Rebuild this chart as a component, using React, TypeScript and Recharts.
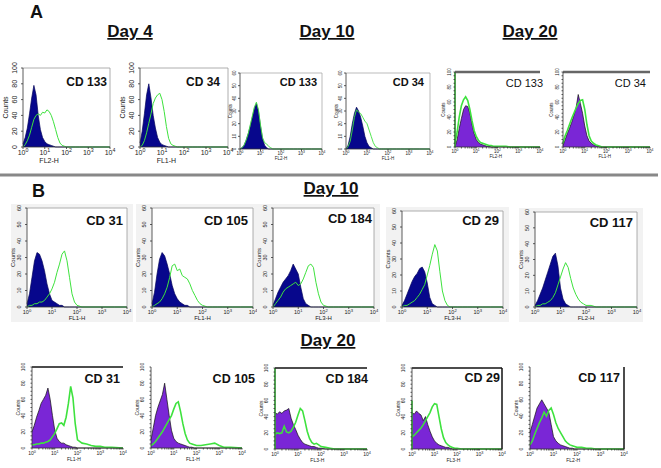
import React from "react";
import { ComposedChart, Area, Line, XAxis, YAxis, ReferenceLine } from "recharts";

// log10 positions of the histogram channels (0 = 10^0 ... 4 = 10^4)
const LOG_X = [0, 0.1, 0.2, 0.3, 0.4, 0.5, 0.6, 0.7, 0.8, 0.9, 1, 1.1, 1.2, 1.3, 1.4, 1.5, 1.6, 1.7, 1.8, 1.9, 2, 2.2, 2.4, 2.6, 2.8, 3, 3.2, 3.5, 4];
const DECADES = [0, 1, 2, 3, 4];
const DECADE_MINOR = [0, 0.301, 0.477, 0.602, 0.699, 0.778, 0.845, 0.903, 0.954, 1, 1.301, 1.477, 1.602, 1.699, 1.778, 1.845, 1.903, 1.954, 2, 2.301, 2.477, 2.602, 2.699, 2.778, 2.845, 2.903, 2.954, 3, 3.301, 3.477, 3.602, 3.699, 3.778, 3.845, 3.903, 3.954, 4];

// Panel A, Day 4
const a4Cd133Iso = [4, 12, 24, 42, 62, 78, 66, 40, 22, 12, 7, 4, 3, 2, 1, 0, 0, 0, 0, 0, 0, 0, 0, 0, 0, 0, 0, 0, 0];
const a4Cd133Ab = [0, 3, 8, 15, 25, 35, 40, 42, 40, 44, 43, 47, 45, 40, 32, 22, 12, 5, 2, 1, 0, 0, 0, 0, 0, 0, 0, 0, 0];
const a4Cd34Iso = [5, 20, 42, 66, 80, 62, 40, 24, 12, 6, 3, 2, 1, 0, 0, 0, 0, 0, 0, 0, 0, 0, 0, 0, 0, 0, 0, 0, 0];
const a4Cd34Ab = [0, 2, 8, 18, 30, 42, 55, 62, 66, 68, 60, 45, 26, 11, 4, 2, 1, 0, 0, 0, 0, 0, 0, 0, 0, 0, 0, 0, 0];
// Panel A, Day 10
const a10Cd133Iso = [0, 1, 3, 7, 12, 18, 25, 32, 36, 30, 18, 8, 3, 1, 0, 0, 0, 0, 0, 0, 0, 0, 0, 0, 0, 0, 0, 0, 0];
const a10Cd133Ab = [0, 1, 3, 7, 12, 19, 26, 33, 37, 31, 19, 9, 5, 4, 2, 1, 0, 0, 0, 0, 0, 0, 0, 0, 0, 0, 0, 0, 0];
const a10Cd34Iso = [0, 3, 10, 20, 28, 33, 30, 25, 18, 10, 5, 2, 1, 0, 0, 0, 0, 0, 0, 0, 0, 0, 0, 0, 0, 0, 0, 0, 0];
const a10Cd34Ab = [0, 2, 6, 15, 25, 31, 29, 28, 25, 22, 20, 15, 10, 5, 2, 1, 0, 0, 0, 0, 0, 0, 0, 0, 0, 0, 0, 0, 0];
// Panel A, Day 20
const a20Cd133Iso = [0, 10, 25, 38, 50, 55, 54, 45, 30, 18, 10, 6, 4, 3, 2, 1, 1, 0, 0, 0, 0, 0, 0, 0, 0, 0, 0, 0, 0];
const a20Cd133Ab = [5, 20, 40, 55, 63, 67, 62, 50, 35, 22, 14, 9, 6, 5, 4, 3, 2, 2, 1, 1, 1, 1, 1, 0, 0, 0, 0, 0, 0];
const a20Cd34Iso = [2, 10, 18, 25, 33, 42, 52, 70, 58, 45, 28, 15, 8, 5, 3, 2, 1, 0, 0, 0, 0, 0, 0, 0, 0, 0, 0, 0, 0];
const a20Cd34Ab = [5, 15, 22, 30, 38, 45, 52, 58, 62, 63, 50, 30, 15, 8, 5, 3, 2, 1, 0, 0, 0, 0, 0, 0, 0, 0, 0, 0, 0];

// Panel B, Day 10
const b10Cd31Iso = [2, 8, 18, 28, 33, 32, 28, 22, 14, 8, 4, 3, 2, 1, 1, 0, 0, 0, 0, 0, 0, 0, 0, 0, 0, 0, 0, 0, 0];
const b10Cd31Ab = [0, 1, 1, 2, 2, 3, 3, 4, 6, 8, 11, 15, 21, 26, 32, 34, 28, 18, 8, 3, 1, 0, 0, 0, 0, 0, 0, 0, 0];
const b10Cd105Iso = [2, 9, 20, 29, 33, 31, 26, 20, 13, 8, 5, 3, 2, 1, 1, 0, 0, 0, 0, 0, 0, 0, 0, 0, 0, 0, 0, 0, 0];
const b10Cd105Ab = [0, 1, 2, 3, 5, 8, 12, 18, 25, 26, 22, 23, 19, 18, 17, 14, 10, 7, 4, 2, 1, 0, 0, 0, 0, 0, 0, 0, 0];
const b10Cd184Iso = [1, 5, 9, 12, 15, 17, 19, 22, 26, 23, 20, 12, 5, 2, 1, 0, 0, 0, 0, 0, 0, 0, 0, 0, 0, 0, 0, 0, 0];
const b10Cd184Ab = [0, 2, 4, 6, 9, 11, 12, 13, 14, 15, 13, 14, 17, 21, 25, 26, 24, 15, 8, 3, 1, 0, 0, 0, 0, 0, 0, 0, 0];
const b10Cd29Iso = [1, 4, 8, 12, 16, 19, 21, 24, 25, 22, 15, 6, 2, 1, 0, 0, 0, 0, 0, 0, 0, 0, 0, 0, 0, 0, 0, 0, 0];
const b10Cd29Ab = [0, 1, 1, 2, 3, 4, 6, 8, 11, 14, 20, 26, 33, 39, 35, 22, 10, 4, 1, 0, 0, 0, 0, 0, 0, 0, 0, 0, 0];
const b10Cd117Iso = [1, 4, 8, 12, 17, 22, 27, 32, 34, 26, 12, 5, 2, 1, 0, 0, 0, 0, 0, 0, 0, 0, 0, 0, 0, 0, 0, 0, 0];
const b10Cd117Ab = [0, 1, 1, 2, 2, 3, 4, 6, 9, 14, 19, 24, 28, 25, 18, 12, 8, 5, 3, 2, 1, 1, 0, 0, 0, 0, 0, 0, 0];

// Panel B, Day 20
const b20Cd31Iso = [20, 28, 38, 46, 55, 60, 65, 74, 60, 40, 22, 12, 8, 6, 6, 4, 3, 2, 1, 1, 0, 0, 0, 0, 0, 0, 0, 0, 0];
const b20Cd31Ab = [4, 4, 5, 5, 6, 6, 7, 8, 10, 14, 18, 24, 30, 31, 28, 38, 55, 76, 62, 30, 10, 6, 5, 3, 2, 2, 1, 1, 0];
const b20Cd105Iso = [10, 25, 40, 50, 58, 66, 80, 60, 40, 22, 12, 8, 6, 5, 4, 3, 2, 1, 1, 0, 0, 0, 0, 0, 0, 0, 0, 0, 0];
const b20Cd105Ab = [3, 5, 8, 12, 16, 20, 25, 30, 35, 40, 48, 55, 57, 45, 30, 18, 10, 6, 5, 4, 3, 3, 4, 5, 6, 3, 1, 1, 0];
const b20Cd184Iso = [45, 43, 46, 44, 47, 48, 50, 38, 30, 24, 17, 12, 8, 6, 5, 4, 3, 3, 2, 1, 1, 0, 0, 0, 0, 0, 0, 0, 0];
const b20Cd184Ab = [18, 20, 19, 20, 28, 21, 20, 22, 27, 33, 42, 50, 47, 35, 22, 13, 8, 6, 7, 5, 3, 2, 1, 0, 0, 0, 0, 0, 0];
const b20Cd29Iso = [45, 43, 47, 44, 42, 35, 40, 30, 22, 15, 10, 7, 5, 4, 3, 2, 2, 1, 0, 0, 0, 0, 0, 0, 0, 0, 0, 0, 0];
const b20Cd29Ab = [15, 17, 20, 23, 26, 30, 35, 40, 45, 52, 56, 55, 40, 25, 14, 8, 5, 3, 2, 1, 1, 0, 0, 0, 0, 0, 0, 0, 0];
const b20Cd117Iso = [20, 30, 40, 50, 55, 60, 55, 50, 45, 30, 15, 10, 7, 5, 4, 3, 2, 1, 1, 0, 0, 0, 0, 0, 0, 0, 0, 0, 0];
const b20Cd117Ab = [5, 10, 18, 25, 32, 38, 45, 40, 47, 50, 42, 32, 25, 20, 15, 10, 7, 5, 4, 3, 2, 2, 1, 1, 0, 0, 0, 0, 0];

const NAVY = "#07078c";
const PURPLE = "#7a26d6";
const GREEN = "#3ee23e";
const FONT = "'Liberation Sans', Arial, sans-serif";

const STYLES: Record<string, any> = {
  d4: { fill: NAVY, edge: "#05055a", lw: 1, fs: 7, nameFs: 12, nameW: 700, yStep: 20, minor: false, frame: "#999", frameW: 0.8, yOff: 6, cOff: 15, cFs: 7, tickDy: 8, chanDy: 16, chanFrac: 0.3, bg: null },
  d10: { fill: NAVY, edge: "#05055a", lw: 0.9, fs: 4.5, nameFs: 11, nameW: 700, yStep: 10, minor: false, frame: "#aaa", frameW: 0.8, yOff: 4, cOff: 8, cFs: 4.5, tickDy: 6, chanDy: 11, chanFrac: 0.5, bg: null },
  d20a: { fill: PURPLE, edge: "#111", lw: 1.6, fs: 4.5, nameFs: 11, nameW: 400, yStep: 20, minor: true, frame: "#666", frameW: 2.5, yOff: 4, cOff: 10, cFs: 4.5, tickDy: 6, chanDy: 11, chanFrac: 0.48, bg: null },
  b10: { fill: NAVY, edge: "#05055a", lw: 1, fs: 5.5, nameFs: 13, nameW: 700, yStep: 10, minor: false, frame: "#999", frameW: 0.8, yOff: 6, cOff: 12, cFs: 6, tickDy: 7, chanDy: 13, chanFrac: 0.5, bg: "#f2f2f2" },
  b20: { fill: PURPLE, edge: "#111", lw: 1.6, fs: 5, nameFs: 12.5, nameW: 700, yStep: 20, minor: true, frame: "#111", frameW: 1.5, yOff: 7, cOff: 12, cFs: 5, tickDy: 7, chanDy: 13, chanFrac: 0.46, bg: null },
};

type Panel = {
  kind: string;
  box: [number, number, number, number];
  ymax: number;
  name: string;
  chan: string;
  iso: number[];
  ab: number[];
  lab: [number, number];
  top?: boolean;
  right?: boolean;
  edge?: number;
};

const PANELS: Panel[] = [
  { kind: "d4", box: [23, 68, 87, 79], ymax: 100, name: "CD 133", chan: "FL2-H", iso: a4Cd133Iso, ab: a4Cd133Ab, lab: [107, 86], top: true, right: true },
  { kind: "d4", box: [140, 68, 88, 79], ymax: 100, name: "CD 34", chan: "FL1-H", iso: a4Cd34Iso, ab: a4Cd34Ab, lab: [220, 86], top: true, right: true },
  { kind: "d10", box: [240, 73, 82, 76], ymax: 60, name: "CD 133", chan: "FL2-H", iso: a10Cd133Iso, ab: a10Cd133Ab, lab: [317, 86], top: true, right: true },
  { kind: "d10", box: [346, 73, 84, 76], ymax: 60, name: "CD 34", chan: "FL1-H", iso: a10Cd34Iso, ab: a10Cd34Ab, lab: [424, 86], top: true, right: true },
  { kind: "d20a", box: [455, 72, 85, 75], ymax: 100, name: "CD 133", chan: "FL2-H", iso: a20Cd133Iso, ab: a20Cd133Ab, lab: [543, 87], top: true, edge: 100 },
  { kind: "d20a", box: [563, 72, 87, 75], ymax: 100, name: "CD 34", chan: "FL1-H", iso: a20Cd34Iso, ab: a20Cd34Ab, lab: [646, 87], top: true },

  { kind: "b10", box: [27, 208, 100, 99], ymax: 60, name: "CD 31", chan: "FL1-H", iso: b10Cd31Iso, ab: b10Cd31Ab, lab: [123, 225], top: true, right: true },
  { kind: "b10", box: [152, 208, 101, 99], ymax: 60, name: "CD 105", chan: "FL1-H", iso: b10Cd105Iso, ab: b10Cd105Ab, lab: [248, 225], top: true, right: true },
  { kind: "b10", box: [273, 208, 101, 99], ymax: 60, name: "CD 184", chan: "FL3-H", iso: b10Cd184Iso, ab: b10Cd184Ab, lab: [372, 223], top: true, right: true },
  { kind: "b10", box: [402, 211, 101, 96], ymax: 60, name: "CD 29", chan: "FL3-H", iso: b10Cd29Iso, ab: b10Cd29Ab, lab: [499, 225], top: true, right: true },
  { kind: "b10", box: [535, 212, 102, 95], ymax: 60, name: "CD 117", chan: "FL2-H", iso: b10Cd117Iso, ab: b10Cd117Ab, lab: [633, 227], top: true, right: true },

  { kind: "b20", box: [32, 367, 91, 81], ymax: 100, name: "CD 31", chan: "FL1-H", iso: b20Cd31Iso, ab: b20Cd31Ab, lab: [120, 383], top: true },
  { kind: "b20", box: [151, 367, 91, 81], ymax: 100, name: "CD 105", chan: "FL1-H", iso: b20Cd105Iso, ab: b20Cd105Ab, lab: [255, 383] },
  { kind: "b20", box: [275, 368, 92, 81], ymax: 100, name: "CD 184", chan: "FL3-H", iso: b20Cd184Iso, ab: b20Cd184Ab, lab: [368, 383], top: true, edge: 100 },
  { kind: "b20", box: [412, 368, 90, 81], ymax: 100, name: "CD 29", chan: "FL3-H", iso: b20Cd29Iso, ab: b20Cd29Ab, lab: [500, 382], top: true, right: true, edge: 60 },
  { kind: "b20", box: [530, 367, 94, 82], ymax: 100, name: "CD 117", chan: "FL2-H", iso: b20Cd117Iso, ab: b20Cd117Ab, lab: [620, 382], right: true },
];

const PAD_L = 22;
const PAD_T = 10;
const PAD_R = 6;
const PAD_B = 20;

function DecadeTick(props: any) {
  const { x, payload, fs, base } = props;
  if (!Number.isInteger(payload.value)) return null;
  return (
    <text x={x} y={base} textAnchor="middle" fontSize={fs} fontFamily={FONT} fill="#222">
      10<tspan dy={-fs * 0.45} fontSize={fs * 0.75}>{payload.value}</tspan>
    </text>
  );
}

function CountTick(props: any) {
  const { y, payload, fs, step, ax } = props;
  if (payload.value % step !== 0) return null;
  return (
    <text x={ax} y={y} transform={`rotate(-90 ${ax} ${y})`} textAnchor="middle" fontSize={fs} fontFamily={FONT} fill="#222">
      {payload.value}
    </text>
  );
}

function Histo({ p }: { p: Panel }) {
  const s = STYLES[p.kind];
  const [bx, by, bw, bh] = p.box;
  const W = PAD_L + bw + PAD_R;
  const H = PAD_T + bh + PAD_B;
  const left = bx - PAD_L;
  const top = by - PAD_T;
  const data = LOG_X.map((x, i) => ({ x, iso: p.iso[i], ab: p.ab[i] }));
  const minorStep = s.minor ? 5 : s.yStep;
  const yTicks = Array.from({ length: p.ymax / minorStep + 1 }, (_, i) => i * minorStep);

  return (
    <div style={{ position: "absolute", left, top, width: W, height: H }}>
      {s.bg && (
        <div style={{ position: "absolute", left: PAD_L - 16, top: PAD_T - 4, width: bw + 22, height: bh + 19, background: s.bg }} />
      )}
      <div style={{ position: "absolute", left: PAD_L, top: PAD_T, width: bw, height: bh, background: "#fff" }} />
      <div style={{ position: "absolute", left: 0, top: 0 }}>
        <ComposedChart width={W} height={H} data={data} margin={{ top: PAD_T, right: PAD_R, left: 0, bottom: 0 }}>
          <XAxis
            type="number"
            dataKey="x"
            domain={[0, 4]}
            ticks={s.minor ? DECADE_MINOR : DECADES}
            interval={0}
            height={PAD_B}
            tickSize={s.minor ? 1.5 : 2}
            axisLine={{ stroke: "#333", strokeWidth: 0.8 }}
            tickLine={{ stroke: "#333", strokeWidth: 0.8 }}
            tick={<DecadeTick fs={s.fs} base={PAD_T + bh + s.tickDy} />}
          />
          <YAxis
            type="number"
            domain={[0, p.ymax]}
            ticks={yTicks}
            interval={0}
            width={PAD_L}
            tickSize={s.minor ? 1.5 : 2}
            axisLine={{ stroke: "#333", strokeWidth: 0.8 }}
            tickLine={{ stroke: "#333", strokeWidth: 0.8 }}
            tick={<CountTick fs={s.fs} step={s.yStep} ax={PAD_L - s.yOff} />}
          />
          <Area type="linear" dataKey="iso" fill={s.fill} fillOpacity={1} stroke={s.edge} strokeWidth={0.7} isAnimationActive={false} />
          <Line type="linear" dataKey="ab" stroke={GREEN} strokeWidth={s.lw} dot={false} isAnimationActive={false} />
          {p.edge ? (
            <ReferenceLine segment={[{ x: 0, y: 0 }, { x: 0, y: p.edge }]} stroke={GREEN} strokeWidth={1.6} />
          ) : null}
          {p.top ? <ReferenceLine y={p.ymax} stroke={s.frame} strokeWidth={s.frameW} /> : null}
          {p.right ? <ReferenceLine x={4} stroke={s.frame} strokeWidth={s.kind === "b20" ? 1.2 : s.frameW} /> : null}
        </ComposedChart>
      </div>
      <svg width={W} height={H} style={{ position: "absolute", left: 0, top: 0, pointerEvents: "none" }}>
        <text
          x={PAD_L - s.cOff}
          y={PAD_T + bh / 2}
          transform={`rotate(-90 ${PAD_L - s.cOff} ${PAD_T + bh / 2})`}
          textAnchor="middle"
          fontSize={s.cFs}
          fontFamily={FONT}
          fill="#222"
        >
          Counts
        </text>
        <text x={PAD_L + bw * s.chanFrac} y={PAD_T + bh + s.chanDy} textAnchor="middle" fontSize={s.cFs} fontFamily={FONT} fill="#222">
          {p.chan}
        </text>
      </svg>
    </div>
  );
}

export default function App() {
  return (
    <div style={{ position: "fixed", left: 0, top: 0, width: 661, height: 468, background: "#fff", overflow: "hidden" }}>
      {PANELS.map((p, i) => (
        <Histo key={i} p={p} />
      ))}
      <svg width={661} height={468} style={{ position: "absolute", left: 0, top: 0, pointerEvents: "none" }}>
        <g fontFamily={FONT} fontWeight={700} fill="#111">
          <text x={30} y={18} fontSize={18}>A</text>
          <text x={130} y={37} fontSize={17} textAnchor="middle" style={{ textDecoration: "underline" }}>Day 4</text>
          <text x={327} y={37} fontSize={17} textAnchor="middle" style={{ textDecoration: "underline" }}>Day 10</text>
          <text x={530} y={37} fontSize={17} textAnchor="middle" style={{ textDecoration: "underline" }}>Day 20</text>
          <text x={32} y={197} fontSize={18}>B</text>
          <text x={331} y={194} fontSize={17} textAnchor="middle" style={{ textDecoration: "underline" }}>Day 10</text>
          <text x={328} y={346} fontSize={17} textAnchor="middle" style={{ textDecoration: "underline" }}>Day 20</text>
        </g>
        <line x1={0} y1={175} x2={658} y2={175} stroke="#888" strokeWidth={3} />
        {PANELS.map((p, i) => {
          const s = STYLES[p.kind];
          return (
            <text key={i} x={p.lab[0]} y={p.lab[1]} textAnchor="end" fontSize={s.nameFs} fontWeight={s.nameW} fontFamily={FONT} fill="#111">
              {p.name}
            </text>
          );
        })}
      </svg>
    </div>
  );
}
